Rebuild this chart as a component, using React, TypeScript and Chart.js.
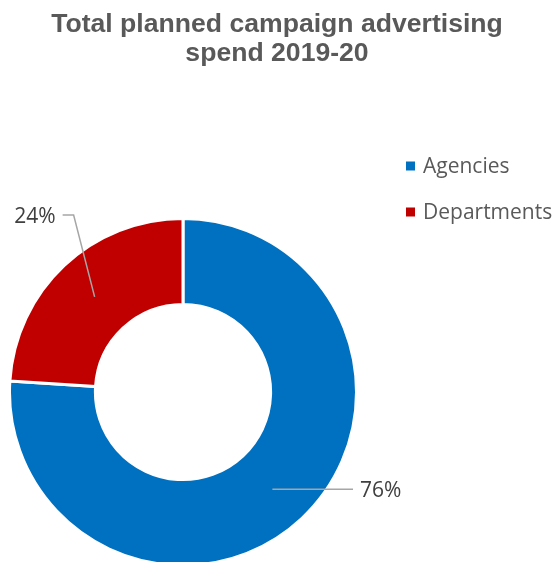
import { useEffect, useRef } from "react";
import { Chart, registerables } from "chart.js";

Chart.register(...registerables);

const TITLE_LINES = ["Total planned campaign advertising", "spend 2019-20"];
const CATEGORIES = ["Agencies", "Departments"];
const SHARES = [76, 24];
const PERCENT_LABELS = ["76%", "24%"];
const COLORS = ["#0070C0", "#C00000"];

const CANVAS_W = 553;
const CANVAS_H = 568;

// Title, legend and leader-line labels drawn on top of the doughnut
const annotationsPlugin = {
  id: "annotations",
  afterDraw(chart: Chart) {
    const ctx = chart.ctx;
    ctx.save();

    // title
    ctx.fillStyle = "#595959";
    ctx.font = "bold 26.6px 'Liberation Sans', Arial, sans-serif";
    ctx.textAlign = "center";
    ctx.textBaseline = "alphabetic";
    ctx.fillText(TITLE_LINES[0], 277, 32);
    ctx.fillText(TITLE_LINES[1], 277, 61);

    // legend
    ctx.font = "21px 'Open Sans', sans-serif";
    ctx.textAlign = "left";
    CATEGORIES.forEach((name, i) => {
      const y = 166 + i * 46;
      ctx.fillStyle = COLORS[i];
      ctx.fillRect(406, y - 4.5, 9, 9);
      ctx.fillStyle = "#595959";
      ctx.fillText(name, 423, y + 7);
    });

    // data labels with leader lines
    const meta = chart.getDatasetMeta(0);
    ctx.strokeStyle = "#A6A6A6";
    ctx.lineWidth = 1.5;
    ctx.fillStyle = "#404040";
    ctx.font = "21px 'Open Sans', sans-serif";
    meta.data.forEach((el: any, i: number) => {
      const p = el.tooltipPosition(false);
      const cx = el.x;
      const cy = el.y;
      const outer = el.outerRadius - 1.5;
      ctx.beginPath();
      if (i === 0) {
        const endX = cx + outer - 2;
        const ly = p.y + 2;
        ctx.moveTo(p.x, ly);
        ctx.lineTo(endX, ly);
        ctx.stroke();
        ctx.textAlign = "left";
        ctx.fillText(PERCENT_LABELS[i], endX + 7, ly + 8);
      } else {
        const ex = p.x - 20;
        const ey = cy - outer - 5;
        ctx.moveTo(p.x + 1, p.y);
        ctx.lineTo(ex, ey);
        ctx.lineTo(ex - 11, ey);
        ctx.stroke();
        ctx.textAlign = "right";
        ctx.fillText(PERCENT_LABELS[i], ex - 18, ey + 8);
      }
    });

    ctx.restore();
  },
};

export default function App() {
  const ref = useRef<HTMLCanvasElement | null>(null);

  useEffect(() => {
    if (!ref.current) return;
    const chart = new Chart(ref.current, {
      type: "doughnut",
      data: {
        labels: CATEGORIES,
        datasets: [
          {
            data: SHARES,
            backgroundColor: COLORS,
            borderColor: "#FFFFFF",
            borderWidth: 3,
          },
        ],
      },
      options: {
        responsive: false,
        animation: false,
        devicePixelRatio: 1,
        events: [],
        cutout: "50.5%",
        layout: { padding: { left: 8, top: 217, right: 195, bottom: 1 } },
        plugins: {
          legend: { display: false },
          tooltip: { enabled: false },
          title: { display: false },
        },
      },
      plugins: [annotationsPlugin],
    });
    return () => chart.destroy();
  }, []);

  return (
    <div
      style={{
        position: "fixed",
        left: 0,
        top: 0,
        width: 553,
        height: 562,
        overflow: "hidden",
        background: "#FFFFFF",
      }}
    >
      <canvas ref={ref} width={CANVAS_W} height={CANVAS_H} style={{ display: "block" }} />
    </div>
  );
}
